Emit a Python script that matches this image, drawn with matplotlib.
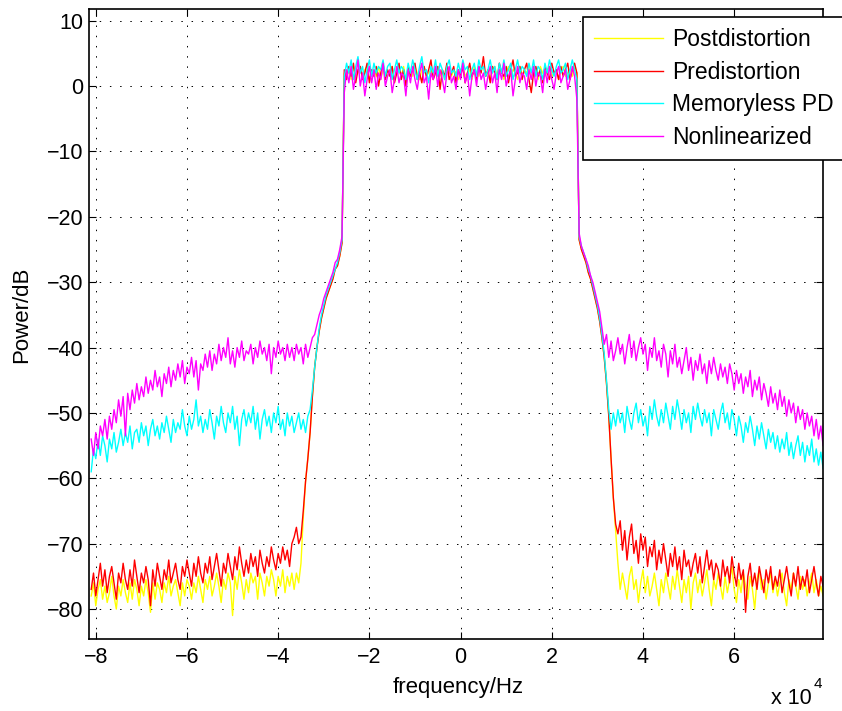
import numpy as np
import matplotlib
matplotlib.use("Agg")
import matplotlib.pyplot as plt

plt.rcParams['font.family'] = ['Liberation Sans', 'DejaVu Sans']

# ---- data (dB), frequency grid: left stopband -81..-26 kHz, passband -25.5..25.5 kHz, right 26..79.5 kHz (0.5 kHz step)
labels = ["Postdistortion", "Predistortion", "Memoryless PD", "Nonlinearized"]
colors = ["#ffff00", "#ff0000", "#00ffff", "#ff00ff"]

nonlin_left = [
    -54.0, -56.5, -53.0, -55.5, -52.0, -53.5, -51.0, -54.0, -50.5, -52.5,
    -49.5, -51.5, -48.0, -50.5, -47.5, -53.5, -47.0, -49.5, -46.5, -48.5,
    -45.5, -48.0, -46.0, -47.5, -44.5, -47.0, -45.0, -46.5, -43.5, -46.0,
    -44.5, -47.5, -44.0, -45.5, -43.0, -46.0, -43.5, -45.0, -42.5, -44.5,
    -42.0, -45.5, -43.0, -44.0, -41.5, -44.5, -42.0, -46.5, -42.5, -43.5,
    -41.0, -43.0, -40.5, -43.5, -41.0, -42.5, -39.5, -42.0, -40.0, -41.5,
    -38.5, -42.5, -40.5, -43.0, -40.0, -41.5, -39.0, -42.0, -40.5, -41.0,
    -39.5, -42.5, -40.0, -41.5, -39.0, -41.0, -40.0, -42.0, -39.5, -44.0,
    -40.0, -41.5, -39.0, -41.0, -40.0, -42.0, -39.5, -41.5, -40.0, -42.0,
    -39.5, -41.0, -40.0, -42.5, -39.5, -41.5, -40.0, -38.5, -38.0, -36.5,
    -35.0, -34.0, -32.5, -31.5, -30.5, -29.5, -28.5, -27.0, -26.5, -25.0, -23.0]
memless_left = [
    -59.0, -55.5, -57.0, -54.0, -56.5, -53.5, -55.0, -57.5, -54.0, -55.5,
    -53.0, -56.0, -54.5, -52.5, -55.0, -53.0, -54.5, -52.0, -55.5, -53.0,
    -52.5, -54.5, -51.5, -53.5, -52.0, -55.0, -52.5, -51.0, -53.5, -52.0,
    -54.0, -51.5, -53.0, -50.5, -52.5, -54.5, -51.0, -53.0, -51.5, -52.5,
    -49.5, -52.0, -53.5, -50.5, -52.5, -51.0, -48.0, -52.0, -50.5, -53.0,
    -51.0, -52.5, -49.5, -51.5, -54.0, -50.5, -52.0, -49.0, -51.5, -53.0,
    -50.0, -51.5, -49.0, -52.5, -50.5, -55.0, -51.0, -49.5, -52.0, -50.0,
    -51.5, -49.0, -52.5, -50.0, -54.0, -51.0, -49.5, -52.0, -50.5, -53.0,
    -50.0, -51.5, -49.0, -52.5, -51.0, -53.5, -50.0, -52.0, -50.5, -53.0,
    -51.5, -50.0, -52.5, -51.0, -53.0, -50.5, -49.5, -46.5, -43.0, -40.0,
    -37.0, -35.0, -33.5, -32.0, -31.0, -30.0, -29.0, -28.0, -27.0, -25.5, -23.5]
pre_left = [
    -77.0, -74.5, -78.0, -75.5, -73.0, -76.5, -74.0, -77.5, -75.0, -73.5,
    -76.0, -78.5, -74.5, -76.0, -73.0, -75.5, -77.0, -74.0, -76.5, -72.5,
    -75.0, -77.5, -74.5, -76.0, -73.5, -75.5, -79.5, -74.0, -76.5, -73.0,
    -75.0, -77.0, -74.0, -75.5, -72.5, -76.0, -74.5, -73.0, -75.5, -77.0,
    -73.5, -75.0, -72.5, -74.5, -76.5, -73.0, -75.0, -72.0, -74.5, -76.0,
    -73.0, -74.5, -72.0, -75.5, -73.5, -71.5, -74.0, -76.5, -73.0, -74.5,
    -71.5, -73.5, -75.5, -72.0, -74.0, -70.5, -73.0, -75.0, -72.5, -74.5,
    -71.5, -73.5, -72.0, -75.0, -71.0, -73.0, -74.5, -72.0, -73.5, -70.5,
    -72.5, -74.0, -71.5, -73.0, -70.5, -72.5, -71.0, -73.5, -70.0, -69.0,
    -67.5, -70.0, -69.0, -65.0, -60.5, -57.0, -53.0, -47.5, -43.0, -40.0,
    -37.5, -35.5, -34.0, -32.5, -31.5, -30.5, -29.5, -28.0, -27.5, -26.0, -24.0]
post_left = [
    -78.0, -76.0, -79.5, -77.0, -75.5, -78.5, -76.5, -79.0, -77.5, -75.0,
    -78.0, -80.0, -76.5, -78.0, -75.5, -77.5, -79.0, -76.0, -78.5, -75.5,
    -77.0, -79.5, -76.5, -78.0, -75.5, -77.5, -80.5, -76.0, -78.5, -76.0,
    -77.0, -79.0, -76.0, -77.5, -75.0, -78.0, -76.5, -75.5, -77.5, -79.5,
    -76.0, -78.0, -75.5, -76.5, -78.5, -76.0, -77.5, -75.0, -77.0, -79.0,
    -75.5, -77.0, -75.0, -78.0, -76.5, -74.5, -76.5, -79.0, -75.5, -77.0,
    -74.5, -76.0, -81.0, -75.0, -77.0, -74.0, -76.0, -78.5, -75.5, -77.5,
    -74.5, -76.0, -75.0, -78.5, -74.5, -76.0, -78.0, -75.0, -76.5, -74.0,
    -75.5, -78.0, -75.0, -76.5, -74.0, -77.5, -75.0, -76.5, -74.5, -77.0,
    -74.5, -76.0, -73.0, -66.0, -60.5, -57.0, -53.0, -47.5, -43.0, -40.0,
    -37.5, -35.5, -34.0, -32.5, -31.5, -30.5, -29.5, -28.0, -27.5, -26.0, -24.0]

nonlin_pass = [
    -1.0, 2.5, 0.5, 3.0, -0.5, 1.5, 4.0, 0.0, 2.0, -1.5,
    1.0, 3.0, 0.5, 2.5, -0.5, 2.0, 1.0, 3.5, 0.0, 1.5,
    2.5, -1.0, 1.0, 3.0, 0.5, 2.0, 1.5, -1.5, 2.5, 0.5,
    3.0, 1.0, -0.5, 2.0, 3.5, 0.5, 1.5, -2.0, 2.0, 1.0,
    3.0, 0.0, 2.5, 1.0, -1.0, 2.0, 3.0, 0.5, 1.5, -0.5,
    2.5, 1.0, 3.5, 0.5, 2.0, -1.5, 1.5, 2.5, 0.0, 3.0,
    1.0, 2.0, -0.5, 1.5, 3.0, 0.5, 2.0, -1.0, 2.5, 1.0,
    3.5, 0.0, 1.5, 2.5, -1.5, 1.0, 3.0, 0.5, 2.0, 1.5,
    -0.5, 2.5, 1.0, 3.0, 0.0, 2.0, 1.5, -1.0, 2.5, 0.5,
    3.0, 1.0, -0.5, 2.0, 3.0, 0.5, 1.5, 2.5, -0.5, 1.0,
    3.0, 1.5, -2.0]
memless_pass = [
    1.5, 3.5, 2.0, 4.0, 1.0, 3.0, 4.5, 2.0, 3.0, 0.5,
    2.5, 4.0, 1.5, 3.5, 2.0, 3.0, 2.5, 4.0, 1.5, 3.0,
    3.5, 1.0, 2.5, 4.0, 2.0, 3.0, 2.5, 1.0, 3.5, 2.0,
    4.0, 2.5, 1.0, 3.0, 4.5, 2.0, 2.5, 0.5, 3.0, 2.0,
    4.0, 1.5, 3.5, 2.5, 1.0, 3.0, 4.0, 2.0, 2.5, 1.5,
    3.5, 2.0, 4.0, 2.5, 3.0, 1.0, 2.5, 3.5, 1.5, 4.0,
    2.5, 3.0, 1.5, 2.5, 4.0, 2.0, 3.0, 1.0, 3.5, 2.0,
    4.0, 1.5, 2.5, 3.5, 1.0, 2.5, 4.0, 2.0, 3.0, 2.5,
    1.5, 3.5, 2.0, 4.0, 1.5, 3.0, 2.5, 1.0, 3.5, 2.0,
    4.0, 2.5, 1.5, 3.0, 4.0, 2.0, 2.5, 3.5, 1.0, 2.5,
    4.0, 2.5, 1.0]
pre_pass = [
    2.5, 1.0, 3.0, 1.5, 3.5, 0.5, 2.5, 3.0, 1.0, 2.0,
    3.5, 0.5, 2.5, 1.5, 3.0, 0.0, 2.0, 3.5, 1.0, 2.5,
    1.5, 3.0, 0.5, 2.0, 3.5, 1.0, 2.5, 0.0, 3.0, 1.5,
    2.5, 3.5, 1.0, 2.0, 0.5, 3.0, 1.5, 2.5, 4.0, 1.0,
    2.0, 3.0, -0.5, 2.5, 1.5, 3.5, 1.0, 2.0, 3.0, 0.5,
    2.5, 1.5, 3.0, 0.5, 2.0, 3.5, 1.5, 2.5, 1.0, 3.0,
    2.0, 4.5, 1.5, 2.5, 0.5, 3.0, 2.0, 1.0, 3.5, 2.0,
    1.5, 3.0, 0.5, 2.5, 4.0, 1.5, 2.0, 3.0, 1.0, 2.5,
    3.5, 1.0, -1.0, 2.0, 3.0, 1.5, 2.5, 0.5, 3.0, 2.0,
    1.0, 3.5, 2.0, 2.5, 1.0, 3.0, 1.5, 2.5, 3.5, 1.0,
    2.5, 3.5, 2.0]
post_pass = [
    2.0, 1.5, 2.5, 1.0, 3.0, 1.5, 2.0, 3.0, 1.5, 2.5,
    3.0, 1.0, 2.0, 2.5, 1.5, 3.0, 1.0, 2.5, 2.0, 1.5,
    2.5, 3.0, 1.0, 2.0, 2.5, 1.5, 3.0, 1.0, 2.0, 2.5,
    1.5, 3.0, 2.0, 1.0, 2.5, 3.0, 1.5, 2.0, 2.5, 1.0,
    3.0, 2.0, 1.5, 2.5, 1.0, 3.0, 2.0, 1.5, 2.5, 2.0,
    1.0, 2.5, 3.0, 1.5, 2.0, 2.5, 1.0, 3.0, 2.0, 1.5,
    2.5, 3.0, 1.5, 2.0, 1.0, 2.5, 3.0, 1.5, 2.0, 2.5,
    1.0, 2.0, 3.0, 1.5, 2.5, 2.0, 1.0, 3.0, 1.5, 2.5,
    2.0, 3.0, 1.5, 2.0, 2.5, 1.0, 3.0, 2.0, 1.5, 2.5,
    3.0, 1.5, 2.0, 2.5, 1.0, 2.5, 3.0, 1.5, 2.0, 2.5,
    1.5, 3.0, 2.0]

nonlin_right = [
    -22.5, -24.5, -25.5, -26.5, -27.5, -29.0, -30.0, -31.5, -33.0, -34.5,
    -37.0, -39.5, -38.0, -41.5, -39.0, -42.0, -40.5, -38.5, -41.0, -39.5,
    -42.5, -40.0, -38.0, -41.5, -39.0, -42.0, -40.0, -38.5, -41.0, -39.5,
    -43.5, -40.0, -41.5, -38.5, -42.0, -40.5, -43.0, -39.5, -41.0, -44.5,
    -40.5, -42.5, -39.5, -43.0, -41.5, -44.0, -42.0, -40.0, -43.5, -41.5,
    -45.0, -42.0, -43.5, -41.0, -44.0, -42.5, -45.5, -42.0, -44.0, -41.5,
    -43.5, -45.0, -42.5, -44.5, -43.0, -45.5, -42.5, -44.0, -46.5, -43.5,
    -45.5, -44.0, -47.0, -44.5, -46.0, -43.5, -47.5, -45.0, -46.5, -44.5,
    -48.0, -45.5, -47.0, -49.0, -46.0, -48.5, -47.0, -49.5, -46.5, -49.0,
    -47.5, -50.5, -48.0, -50.0, -48.5, -51.5, -49.0, -51.0, -49.5, -52.5,
    -50.0, -52.0, -50.5, -53.5, -51.0, -54.0, -52.0, -55.0]
memless_right = [
    -23.0, -24.5, -25.5, -26.5, -28.0, -29.0, -30.5, -32.0, -33.5, -35.5,
    -38.0, -41.0, -45.0, -49.5, -52.5, -50.0, -52.0, -49.5, -51.5, -50.0,
    -53.0, -49.0, -51.0, -52.5, -50.0, -48.5, -51.5, -49.5, -52.0, -50.5,
    -53.5, -49.0, -51.0, -48.0, -50.5, -52.0, -49.5, -51.5, -48.5, -50.5,
    -52.5, -49.0, -51.0, -48.0, -50.0, -52.5, -49.5, -51.5, -50.0, -53.0,
    -49.0, -51.0, -48.5, -50.5, -52.0, -49.5, -51.5, -50.0, -53.5, -49.5,
    -51.0, -52.5, -50.0, -48.5, -51.5, -50.0, -52.5, -49.5, -51.0, -53.5,
    -50.5, -52.0, -54.5, -51.5, -53.0, -50.5, -52.5, -55.0, -52.0, -54.0,
    -51.5, -53.5, -55.5, -52.5, -54.5, -53.0, -55.5, -53.5, -56.0, -54.0,
    -55.5, -53.0, -56.5, -54.5, -57.0, -55.0, -53.5, -56.5, -54.5, -57.5,
    -55.0, -56.5, -54.0, -57.5, -55.5, -58.0, -56.0, -58.5]
pre_right = [
    -23.5, -25.0, -26.0, -27.0, -28.5, -29.5, -31.0, -32.5, -34.0, -36.0,
    -38.5, -41.5, -45.5, -50.5, -57.0, -63.0, -67.0, -68.5, -66.5, -71.0,
    -68.0, -72.5, -69.0, -67.0, -71.5, -69.5, -73.0, -68.5, -71.0, -69.0,
    -73.5, -70.5, -72.0, -69.5, -74.0, -71.0, -73.0, -70.0, -72.5, -75.0,
    -71.5, -73.5, -70.5, -74.0, -72.0, -75.5, -71.0, -73.5, -72.5, -75.0,
    -73.0, -71.5, -74.5, -72.0, -76.0, -73.5, -71.0, -74.0, -72.5, -75.5,
    -73.0, -74.0, -76.5, -72.5, -75.0, -73.5, -76.0, -72.0, -74.5, -76.5,
    -73.0, -75.5, -74.0, -80.5, -75.0, -73.0, -76.5, -74.5, -77.0, -73.5,
    -75.5, -77.5, -74.0, -76.0, -73.5, -77.0, -75.0, -76.5, -74.0, -77.5,
    -75.5, -73.5, -76.0, -78.0, -74.5, -76.5, -73.5, -77.0, -75.0, -76.5,
    -74.0, -77.5, -75.5, -73.5, -76.0, -78.0, -75.0, -76.5]
post_right = [
    -23.5, -25.0, -26.0, -27.0, -28.5, -29.5, -31.0, -32.5, -34.0, -36.0,
    -38.5, -41.5, -45.5, -50.5, -57.0, -63.0, -68.0, -73.0, -77.0, -74.5,
    -76.5, -78.5, -75.0, -73.5, -77.0, -75.5, -79.0, -76.0, -74.0, -77.5,
    -75.0, -78.0, -76.5, -74.5, -77.0, -79.5, -75.5, -77.5, -74.5, -76.5,
    -78.5, -75.0, -77.0, -74.0, -76.5, -79.0, -75.5, -77.5, -75.0, -80.0,
    -76.0, -74.5, -77.5, -75.5, -78.0, -76.0, -74.0, -77.0, -79.5, -75.5,
    -77.0, -74.5, -76.5, -78.5, -75.0, -77.5, -75.5, -73.5, -77.0, -79.0,
    -75.5, -77.5, -74.5, -76.5, -78.5, -75.0, -77.0, -80.0, -75.5, -74.0,
    -77.0, -75.5, -78.5, -76.0, -74.5, -77.5, -75.5, -78.0, -76.0, -74.5,
    -77.5, -79.5, -75.5, -77.0, -74.5, -76.5, -78.5, -75.0, -77.0, -75.5,
    -78.0, -76.0, -74.5, -77.5, -75.5, -78.0, -76.5, -78.0]

series = [
    (post_left, post_pass, post_right),
    (pre_left, pre_pass, pre_right),
    (memless_left, memless_pass, memless_right),
    (nonlin_left, nonlin_pass, nonlin_right),
]

xticks = [-80000, -60000, -40000, -20000, 0, 20000, 40000, 60000]
xtick_labels = ["\u22128", "\u22126", "\u22124", "\u22122", "0", "2", "4", "6"]
yticks = [-80, -70, -60, -50, -40, -30, -20, -10, 0, 10]

# ---- figure
W, H = 842, 711
fig = plt.figure(figsize=(W / 100, H / 100), dpi=100)
L, R, T, B = 89.3, 822.7, 9.0, 638.7
ax = fig.add_axes([L / W, 1 - B / H, (R - L) / W, (B - T) / H])

for (lft, pas, rgt), c, lab in zip(series, colors, labels):
    f = np.concatenate([np.linspace(-81000, -26000, len(lft)),
                        np.linspace(-25500, 25500, len(pas)),
                        np.linspace(26000, 79500, len(rgt))])
    v = np.concatenate([lft, pas, rgt])
    ax.plot(f, v, color=c, lw=1.0, label=lab)

ax.set_xlim(-81420, 79410)
ax.set_ylim(-84.54, 11.79)
ax.set_xticks(xticks)
ax.set_xticklabels(xtick_labels)
ax.set_yticks(yticks)
ax.set_yticklabels([str(t).replace('-', '\u2212') for t in yticks])
ax.tick_params(direction='in', top=True, right=True, length=5, width=0.8,
               labelsize=15.5, pad=6)
ax.tick_params(axis='y', pad=4)
ax.set_axisbelow(True)
ax.grid(True, color='black', linestyle=(0, (1.5, 9)), linewidth=0.7)
for s in ax.spines.values():
    s.set_linewidth(1.2)

fig.text(458 / W, 1 - 688 / H, "frequency/Hz", ha='center', va='center', fontsize=16)
fig.text(22 / W, 1 - 315 / H, "Power/dB", ha='center', va='center', rotation=90, fontsize=16)
fig.text(771 / W, 1 - 698 / H, "x 10", ha='left', va='center', fontsize=15.5)
fig.text(814 / W, 1 - 684 / H, "4", ha='left', va='center', fontsize=11)

leg = ax.legend(loc='upper left', bbox_to_anchor=(582.7 / W, 1 - 16.7 / H),
                bbox_transform=fig.transFigure, borderaxespad=0, fancybox=False,
                edgecolor='black', framealpha=1, fontsize=16.5, handlelength=3.0,
                handletextpad=0.4, labelspacing=0.42, borderpad=0.5)
leg.get_frame().set_linewidth(1.2)

fig.savefig("out.png", dpi=100)
